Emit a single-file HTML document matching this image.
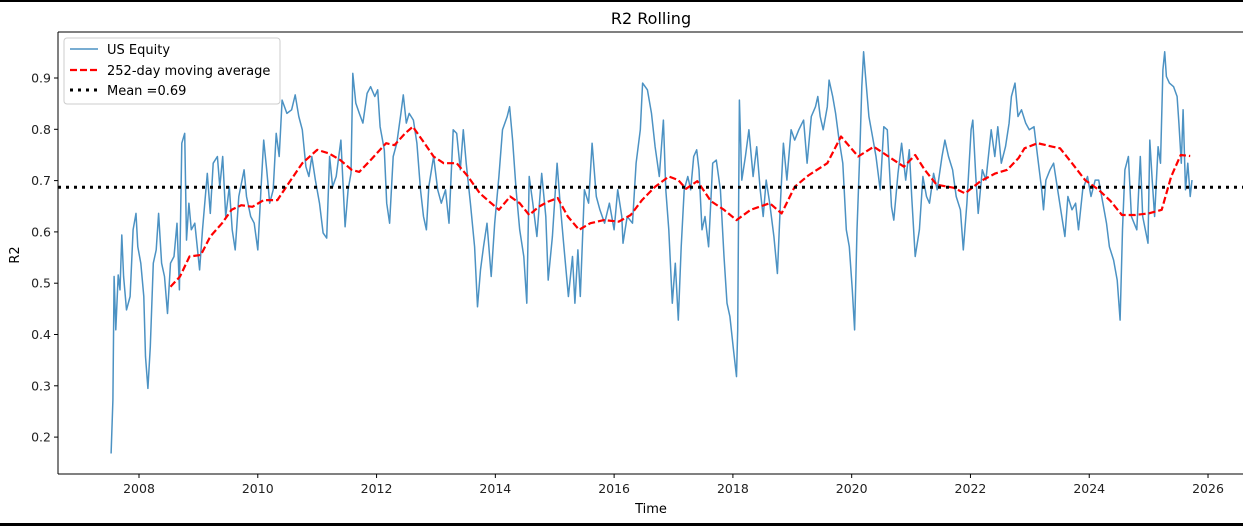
<!DOCTYPE html>
<html><head><meta charset="utf-8"><style>
html,body{margin:0;padding:0;background:#fff;width:1243px;height:526px;overflow:hidden}
svg{display:block;font-family:"DejaVu Sans","Liberation Sans",sans-serif}
</style></head><body>
<svg id="chart" width="1243" height="526">
<rect x="0" y="0" width="1243" height="2" fill="#000"/>
<rect x="0" y="523" width="1243" height="3" fill="#000"/>
<text x="651" y="24" text-anchor="middle" font-size="16" fill="#000">R2 Rolling</text>
<text x="651" y="513" text-anchor="middle" font-size="13" fill="#000">Time</text>
<text transform="translate(19,255) rotate(-90)" text-anchor="middle" font-size="13" fill="#000">R2</text>
<g id="axes"></g>
<g id="plot"></g>
<g id="legend">
<rect x="64" y="38" width="216" height="66" rx="3" fill="#fff" fill-opacity="0.8" stroke="#ccc"/>
<line x1="70" y1="49" x2="98" y2="49" stroke="#1f77b4" stroke-opacity="0.8" stroke-width="1.5"/>
<text x="107" y="54" font-size="13">US Equity</text>
<line x1="70" y1="70" x2="98" y2="70" stroke="#ff0000" stroke-width="2.2" stroke-dasharray="7 3"/>
<text x="107" y="75" font-size="13">252-day moving average</text>
<line x1="70" y1="90" x2="98" y2="90" stroke="#000" stroke-width="3" stroke-dasharray="3 5"/>
<text x="107" y="95" font-size="13">Mean =0.69</text>
</g>
</svg>
<script>
const yTicks=[0.2,0.3,0.4,0.5,0.6,0.7,0.8,0.9];
const xTicks=[2008,2010,2012,2014,2016,2018,2020,2022,2024,2026];
const meanValue=0.687;
const eqDates=[2007.53,2007.56,2007.58,2007.61,2007.65,2007.68,2007.71,2007.74,2007.79,2007.85,2007.9,2007.95,2007.98,2008.03,2008.08,2008.11,2008.15,2008.19,2008.24,2008.29,2008.33,2008.38,2008.43,2008.48,2008.53,2008.59,2008.64,2008.68,2008.72,2008.77,2008.8,2008.84,2008.88,2008.94,2009.02,2009.07,2009.15,2009.2,2009.25,2009.32,2009.36,2009.41,2009.46,2009.52,2009.57,2009.62,2009.68,2009.77,2009.81,2009.88,2009.94,2010.0,2010.06,2010.1,2010.15,2010.2,2010.26,2010.31,2010.36,2010.41,2010.49,2010.57,2010.63,2010.69,2010.75,2010.81,2010.86,2010.91,2010.97,2011.04,2011.1,2011.16,2011.21,2011.26,2011.32,2011.4,2011.47,2011.52,2011.57,2011.6,2011.65,2011.71,2011.77,2011.84,2011.9,2011.97,2012.02,2012.06,2012.13,2012.17,2012.22,2012.28,2012.34,2012.41,2012.45,2012.5,2012.55,2012.62,2012.68,2012.74,2012.79,2012.84,2012.88,2012.96,2013.03,2013.09,2013.16,2013.22,2013.29,2013.35,2013.41,2013.46,2013.51,2013.58,2013.65,2013.7,2013.75,2013.8,2013.86,2013.93,2013.99,2014.06,2014.12,2014.2,2014.24,2014.29,2014.35,2014.41,2014.48,2014.53,2014.57,2014.63,2014.7,2014.78,2014.85,2014.89,2014.96,2015.04,2015.09,2015.15,2015.23,2015.3,2015.34,2015.39,2015.43,2015.5,2015.57,2015.63,2015.7,2015.76,2015.84,2015.92,2016.0,2016.06,2016.13,2016.15,2016.22,2016.31,2016.37,2016.44,2016.48,2016.56,2016.63,2016.69,2016.76,2016.83,2016.87,2016.92,2016.98,2017.03,2017.08,2017.13,2017.18,2017.24,2017.29,2017.34,2017.39,2017.43,2017.48,2017.53,2017.59,2017.66,2017.72,2017.79,2017.85,2017.9,2017.95,2018.01,2018.06,2018.08,2018.11,2018.15,2018.21,2018.27,2018.34,2018.4,2018.46,2018.51,2018.56,2018.62,2018.69,2018.75,2018.8,2018.85,2018.91,2018.98,2019.04,2019.11,2019.19,2019.25,2019.32,2019.39,2019.43,2019.47,2019.52,2019.59,2019.62,2019.68,2019.73,2019.78,2019.85,2019.91,2019.96,2020.01,2020.05,2020.09,2020.14,2020.17,2020.2,2020.23,2020.29,2020.35,2020.41,2020.48,2020.54,2020.6,2020.67,2020.71,2020.78,2020.84,2020.91,2020.97,2021.01,2021.07,2021.14,2021.2,2021.26,2021.31,2021.38,2021.44,2021.52,2021.57,2021.63,2021.7,2021.76,2021.83,2021.88,2021.94,2022.01,2022.04,2022.09,2022.13,2022.2,2022.26,2022.35,2022.41,2022.46,2022.52,2022.59,2022.65,2022.69,2022.75,2022.8,2022.86,2022.93,2022.99,2023.07,2023.13,2023.2,2023.23,2023.27,2023.34,2023.4,2023.46,2023.53,2023.59,2023.64,2023.71,2023.77,2023.82,2023.89,2023.97,2024.03,2024.1,2024.16,2024.23,2024.29,2024.34,2024.41,2024.47,2024.52,2024.56,2024.6,2024.66,2024.71,2024.8,2024.86,2024.9,2024.99,2025.02,2025.06,2025.1,2025.16,2025.2,2025.24,2025.27,2025.3,2025.35,2025.42,2025.48,2025.51,2025.55,2025.58,2025.62,2025.66,2025.7,2025.73];
const eqValues=[0.168,0.272,0.513,0.409,0.516,0.487,0.594,0.513,0.448,0.474,0.604,0.636,0.571,0.539,0.474,0.357,0.295,0.376,0.539,0.565,0.636,0.539,0.513,0.441,0.539,0.552,0.617,0.487,0.773,0.792,0.584,0.656,0.604,0.617,0.526,0.604,0.714,0.636,0.734,0.747,0.688,0.747,0.63,0.688,0.604,0.565,0.669,0.721,0.669,0.63,0.617,0.565,0.695,0.779,0.721,0.656,0.682,0.792,0.747,0.857,0.831,0.838,0.867,0.825,0.799,0.727,0.708,0.747,0.701,0.656,0.598,0.588,0.747,0.688,0.708,0.779,0.61,0.682,0.714,0.909,0.851,0.831,0.812,0.87,0.883,0.864,0.877,0.805,0.76,0.656,0.617,0.747,0.773,0.831,0.867,0.812,0.831,0.818,0.773,0.682,0.63,0.604,0.688,0.747,0.682,0.656,0.682,0.617,0.799,0.792,0.721,0.799,0.734,0.656,0.571,0.454,0.526,0.571,0.617,0.513,0.617,0.708,0.799,0.825,0.844,0.779,0.682,0.604,0.552,0.461,0.708,0.656,0.591,0.714,0.63,0.506,0.591,0.734,0.656,0.578,0.474,0.552,0.461,0.565,0.474,0.682,0.656,0.773,0.669,0.643,0.617,0.656,0.604,0.682,0.63,0.578,0.63,0.617,0.734,0.799,0.89,0.877,0.831,0.766,0.708,0.818,0.682,0.604,0.461,0.539,0.428,0.571,0.682,0.708,0.682,0.747,0.76,0.721,0.604,0.63,0.571,0.734,0.74,0.682,0.552,0.461,0.435,0.37,0.318,0.409,0.857,0.701,0.747,0.799,0.708,0.766,0.682,0.63,0.701,0.656,0.591,0.519,0.656,0.773,0.701,0.799,0.779,0.799,0.818,0.734,0.825,0.844,0.864,0.825,0.799,0.844,0.896,0.864,0.831,0.786,0.734,0.604,0.571,0.487,0.409,0.604,0.766,0.883,0.951,0.909,0.825,0.786,0.747,0.682,0.805,0.799,0.649,0.623,0.714,0.773,0.701,0.76,0.669,0.552,0.604,0.708,0.669,0.656,0.714,0.682,0.747,0.779,0.747,0.721,0.669,0.643,0.565,0.656,0.799,0.818,0.708,0.636,0.721,0.701,0.799,0.747,0.805,0.734,0.766,0.812,0.864,0.89,0.825,0.838,0.812,0.799,0.805,0.747,0.682,0.643,0.701,0.721,0.734,0.688,0.636,0.591,0.669,0.643,0.656,0.604,0.682,0.708,0.669,0.701,0.701,0.656,0.617,0.571,0.545,0.506,0.428,0.604,0.721,0.747,0.63,0.604,0.747,0.63,0.578,0.779,0.701,0.63,0.766,0.734,0.916,0.951,0.903,0.89,0.883,0.864,0.812,0.734,0.838,0.682,0.734,0.669,0.701];
const maDates=[2008.53,2008.69,2008.85,2009.04,2009.2,2009.4,2009.56,2009.72,2009.91,2010.1,2010.33,2010.52,2010.75,2011.0,2011.2,2011.39,2011.58,2011.71,2011.9,2012.16,2012.3,2012.48,2012.61,2012.77,2012.96,2013.13,2013.35,2013.54,2013.74,2013.93,2014.06,2014.25,2014.41,2014.57,2014.73,2014.89,2015.05,2015.22,2015.41,2015.6,2015.83,2016.08,2016.28,2016.47,2016.69,2016.92,2017.08,2017.21,2017.4,2017.63,2017.85,2018.06,2018.3,2018.62,2018.82,2019.04,2019.27,2019.59,2019.82,2020.11,2020.37,2020.62,2020.88,2021.07,2021.23,2021.43,2021.72,2021.91,2022.17,2022.42,2022.62,2022.81,2022.91,2023.13,2023.38,2023.51,2023.71,2023.93,2024.16,2024.36,2024.55,2024.77,2025.0,2025.22,2025.38,2025.54,2025.7];
const maValues=[0.493,0.513,0.552,0.555,0.591,0.617,0.643,0.652,0.649,0.662,0.662,0.695,0.734,0.76,0.753,0.74,0.721,0.717,0.74,0.773,0.769,0.792,0.805,0.779,0.747,0.734,0.734,0.708,0.675,0.656,0.643,0.669,0.656,0.633,0.649,0.659,0.666,0.63,0.604,0.617,0.623,0.62,0.633,0.662,0.688,0.708,0.701,0.684,0.699,0.66,0.643,0.623,0.643,0.656,0.636,0.688,0.71,0.734,0.786,0.747,0.766,0.747,0.727,0.75,0.721,0.692,0.686,0.675,0.699,0.714,0.721,0.744,0.763,0.773,0.766,0.763,0.734,0.701,0.682,0.66,0.633,0.633,0.636,0.643,0.708,0.75,0.748];

const L=58,T=32,B=474,R=1243;
const xS=d=>139+(d-2008)*59.39;
const yS=v=>78+(0.9-v)*513;
const NS='http://www.w3.org/2000/svg';
const axes=document.getElementById('axes'),plot=document.getElementById('plot');
function mk(tag,attrs,parent){const e=document.createElementNS(NS,tag);for(const k in attrs)e.setAttribute(k,attrs[k]);parent.appendChild(e);return e;}
const spL=mk('line',{x1:L,y1:T,x2:L,y2:B,stroke:'#000','stroke-width':1},axes);


const spB=mk('line',{x1:L,y1:B,x2:R,y2:B,stroke:'#000','stroke-width':1},axes);


const spT=mk('line',{x1:L,y1:T,x2:R,y2:T,stroke:'#000','stroke-width':1},axes);


yTicks.forEach(v=>{const y=yS(v);
 const t=mk('line',{x1:L-4,y1:y,x2:L,y2:y,stroke:'#000'},axes);
 
 
 const tx=mk('text',{x:L-7,y:y+4.5,'text-anchor':'end','font-size':12.5,fill:'#222'},axes);tx.textContent=v.toFixed(1);
 
 });
xTicks.forEach(d=>{const x=xS(d);
 const t=mk('line',{x1:x,y1:B,x2:x,y2:B+4,stroke:'#000'},axes);
 
 
 const tx=mk('text',{x:x,y:B+19,'text-anchor':'middle','font-size':12.5,fill:'#222'},axes);tx.textContent=d;
 
 });
const eq=mk('polyline',{points:eqDates.map((d,i)=>xS(d).toFixed(1)+','+yS(eqValues[i]).toFixed(1)).join(' '),fill:'none',stroke:'#1f77b4','stroke-opacity':0.8,'stroke-width':1.5,'stroke-linejoin':'round'},plot);


const ma=mk('polyline',{points:maDates.map((d,i)=>xS(d).toFixed(1)+','+yS(maValues[i]).toFixed(1)).join(' '),fill:'none',stroke:'#ff0000','stroke-width':2.2,'stroke-dasharray':'7 3','stroke-linejoin':'round'},plot);


const mn=mk('line',{x1:L,y1:yS(meanValue),x2:R,y2:yS(meanValue),stroke:'#000','stroke-width':3,'stroke-dasharray':'3 5'},plot);


document.getElementById('chart').appendChild(document.getElementById('legend'));
</script>
</body></html>
